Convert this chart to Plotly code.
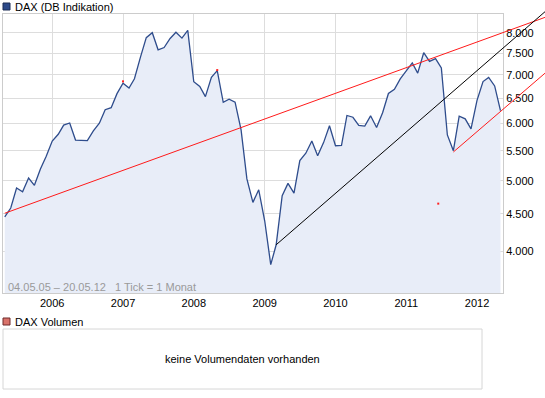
import math
import pandas as pd
import plotly.graph_objects as go

# ---------------- data ----------------
months = pd.date_range("2005-05-01", "2012-05-01", freq="MS")
dax_close = [
    4460, 4586, 4887, 4830, 5044, 4929, 5193, 5408,
    5674, 5797, 5970, 6009, 5692, 5683, 5681, 5859, 6004, 6268, 6309, 6597,
    6820, 6716, 6917, 7409, 7883, 8007, 7584, 7638, 7862, 8019, 7871, 8067,
    6851, 6748, 6535, 6949, 7097, 6418, 6480, 6422, 5880, 5030, 4669, 4860,
    4400, 3830, 4080, 4770, 4960, 4809, 5332, 5458, 5675, 5415, 5650, 5957,
    5590, 5598, 6154, 6120, 5964, 5950, 6148, 5925, 6210, 6601, 6688, 6914,
    7100, 7273, 7041, 7514, 7310, 7376, 7159, 5785, 5502, 6141, 6089, 5898,
    6458, 6856, 6947, 6761, 6250,
]
year_ticks = ["2006-01-01", "2007-01-01", "2008-01-01", "2009-01-01",
              "2010-01-01", "2011-01-01", "2012-01-01"]
year_labels = ["2006", "2007", "2008", "2009", "2010", "2011", "2012"]
price_ticks = [4000, 4500, 5000, 5500, 6000, 6500, 7000, 7500, 8000]
price_labels = ["4.000", "4.500", "5.000", "5.500", "6.000", "6.500",
                "7.000", "7.500", "8.000"]

trend_red_long_dates = ["2005-05-01", "2012-12-18"]
trend_red_long_vals = [4510, 8410]
trend_black_dates = ["2009-03-01", "2012-12-18"]
trend_black_vals = [4080, 8566]
trend_red_short_dates = ["2011-09-01", "2012-12-18"]
trend_red_short_vals = [5480, 7045]
red_mark_dates = ["2007-01-01", "2008-05-01", "2011-06-15"]
red_mark_vals = [6860, 7110, 4650]

# ---------------- layout geometry (px) ----------------
W, H = 545, 398
PL, PR, PT, PB = 3, 503, 14, 293
x0 = pd.Timestamp("2005-04-22")
x1 = pd.Timestamp("2012-05-14")
y_lo, y_hi = 3500, 8498

FONT = "Liberation Sans, Arial, sans-serif"
LINE_BLUE = "#2e4c8c"
FILL_BLUE = "#e8edf8"
GRID = "#dddddd"
FRAME = "#cccccc"

def px(x):
    return x / W

def py(y):
    return 1 - y / H

fig = go.Figure()

# baseline below the axis for the area fill
fig.add_trace(go.Scatter(
    x=months, y=[y_lo * 0.9] * len(months), mode="lines",
    line=dict(width=0, color=FILL_BLUE), hoverinfo="skip", showlegend=False))
fig.add_trace(go.Scatter(
    x=months, y=dax_close, mode="lines", fill="tonexty", fillcolor=FILL_BLUE,
    line=dict(color=LINE_BLUE, width=1.3), showlegend=False))
fig.add_trace(go.Scatter(
    x=red_mark_dates, y=red_mark_vals, mode="markers",
    marker=dict(symbol="square", size=2, color="#ff2020", line=dict(width=0)),
    showlegend=False))

# trend lines on an invisible wider overlay subplot (same scale)
for d, v, c in [(trend_red_long_dates, trend_red_long_vals, "#ff1a1a"),
                (trend_black_dates, trend_black_vals, "#000000"),
                (trend_red_short_dates, trend_red_short_vals, "#ff1a1a")]:
    fig.add_trace(go.Scatter(x=d, y=v, mode="lines", xaxis="x2", yaxis="y2",
                             line=dict(color=c, width=1), showlegend=False))

x2_end = x0 + (x1 - x0) * (W - PL) / (PR - PL)
lg_lo, lg_hi = math.log10(y_lo), math.log10(y_hi)
lg_hi2 = lg_hi + (lg_hi - lg_lo) * PT / (PB - PT)

axis_font = dict(family=FONT, size=11, color="#000000")

fig.update_layout(
    width=W, height=H, margin=dict(l=0, r=0, t=0, b=0),
    paper_bgcolor="white", plot_bgcolor="rgba(0,0,0,0)",
    hovermode=False,
    xaxis=dict(domain=[px(PL), px(PR)], type="date", range=[x0, x1],
               tickvals=year_ticks, ticktext=year_labels, tickfont=axis_font,
               showgrid=True, gridcolor=GRID, gridwidth=1,
               showline=True, mirror=True, linecolor=FRAME, linewidth=1,
               ticks="", zeroline=False, fixedrange=True),
    yaxis=dict(domain=[py(PB), py(PT)], type="log",
               range=[lg_lo, lg_hi], side="right",
               tickvals=price_ticks, ticktext=price_labels, tickfont=axis_font,
               showgrid=True, gridcolor=GRID, gridwidth=1,
               showline=True, mirror=True, linecolor=FRAME, linewidth=1,
               ticks="", zeroline=False, fixedrange=True),
    xaxis2=dict(domain=[px(PL), 1], type="date", range=[x0, x2_end],
                visible=False, anchor="y2", fixedrange=True),
    yaxis2=dict(domain=[py(PB), 1], type="log", range=[lg_lo, lg_hi2],
                visible=False, anchor="x2", fixedrange=True),
)

shapes = [
    # legend square main
    dict(type="rect", xref="paper", yref="paper", x0=px(3), x1=px(10),
         y0=py(10), y1=py(3), fillcolor="#2d4a8a", line=dict(color="#1c2c55", width=1)),
    # legend square volume
    dict(type="rect", xref="paper", yref="paper", x0=px(3), x1=px(10),
         y0=py(325), y1=py(318), fillcolor="#d9726a", line=dict(color="#6e2a2a", width=1)),
    # volume box
    dict(type="rect", xref="paper", yref="paper", x0=px(3), x1=px(482),
         y0=py(389), y1=py(329), fillcolor="white", line=dict(color="#d6d6d6", width=1)),
]
fig.update_layout(shapes=shapes)

annotations = [
    dict(text="DAX (DB Indikation)", x=px(13), y=py(6.5), xref="paper", yref="paper",
         xanchor="left", yanchor="middle", showarrow=False,
         font=dict(family=FONT, size=11, color="#000000")),
    dict(text="04.05.05 \u2013 20.05.12   1 Tick = 1 Monat", x=px(6), y=py(287),
         xref="paper", yref="paper", xanchor="left", yanchor="middle", showarrow=False,
         font=dict(family=FONT, size=11, color="#9a9a9a")),
    dict(text="DAX Volumen", x=px(13), y=py(321.5), xref="paper", yref="paper",
         xanchor="left", yanchor="middle", showarrow=False,
         font=dict(family=FONT, size=11, color="#000000")),
    dict(text="keine Volumendaten vorhanden", x=px(242.5), y=py(359),
         xref="paper", yref="paper", xanchor="center", yanchor="middle", showarrow=False,
         font=dict(family=FONT, size=11, color="#000000")),
]
fig.update_layout(annotations=annotations)

fig.write_html(
    "out.html",
    config=dict(displayModeBar=False, staticPlot=True),
    post_script="document.body.style.margin='0px';document.body.style.padding='0px';"
                "document.body.style.overflow='hidden';",
)
